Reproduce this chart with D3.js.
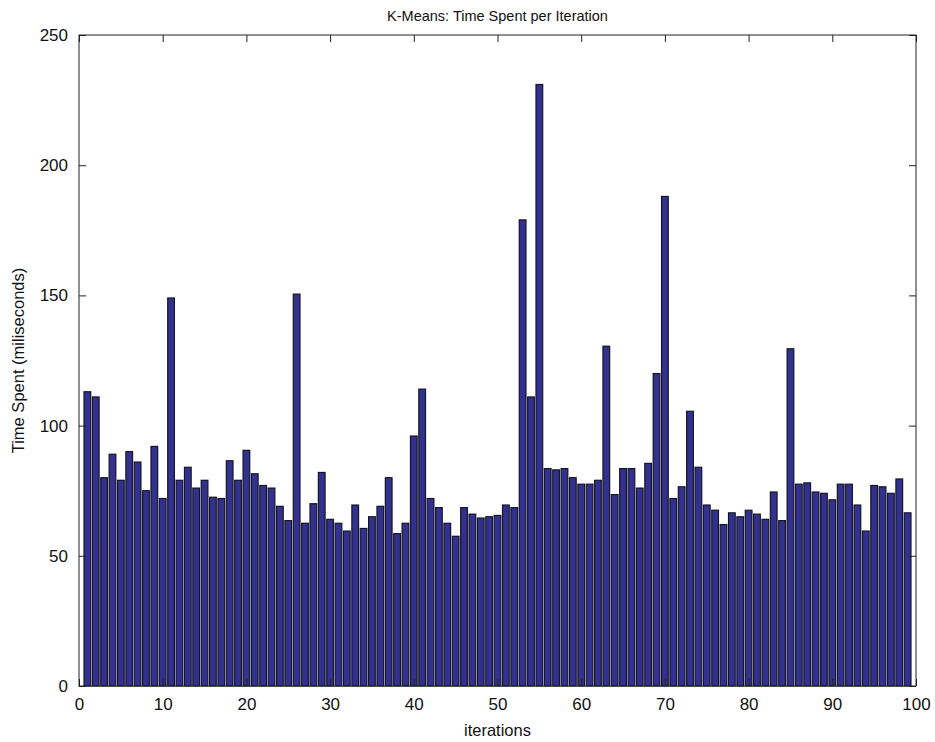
<!DOCTYPE html>
<html>
<head>
<meta charset="utf-8">
<script src="https://cdn.jsdelivr.net/npm/d3@7"></script>
<style>
  body { margin: 0; background: #fff; }
  text { font-family: "Liberation Sans", Arial, sans-serif; }
</style>
</head>
<body>
<div id="chart"></div>
<script>
// time spent (ms) for iterations 1..99
var iterations = d3.range(1, 100);
var timeSpent = [
    113, 111, 80, 89, 79, 90, 86, 75, 92, 72,
    149, 79, 84, 76, 79, 72.5, 72, 86.5, 79, 90.5,
    81.5, 77, 76, 69, 63.5, 150.5, 62.5, 70, 82, 64,
    62.5, 59.5, 69.5, 60.5, 65, 69, 80, 58.5, 62.5, 96,
    114, 72, 68.5, 62.5, 57.5, 68.5, 66, 64.5, 65, 65.5,
    69.5, 68.5, 179, 111, 231, 83.5, 83, 83.5, 80, 77.5,
    77.5, 79, 130.5, 73.5, 83.5, 83.5, 76, 85.5, 120, 188,
    72, 76.5, 105.5, 84, 69.5, 67.5, 62, 66.5, 65, 67.5,
    66, 64, 74.5, 63.5, 129.5, 77.5, 78, 74.5, 74, 71.5,
    77.5, 77.5, 69.5, 59.5, 77, 76.5, 74, 79.5, 66.5
];
var xTicks = [0, 10, 20, 30, 40, 50, 60, 70, 80, 90, 100];
var yTicks = [0, 50, 100, 150, 200, 250];

var width = 935;
var height = 742;
var margin = {top: 35, right: 19, bottom: 56, left: 79};
var plotW = width - margin.left - margin.right;
var plotH = height - margin.top - margin.bottom;

var svg = d3.select('#chart')
    .append('svg')
    .attr('width', width)
    .attr('height', height);

var g = svg.append('g')
    .attr('transform', 'translate(' + margin.left + ',' + margin.top + ')');

var x = d3.scaleLinear().domain([0, 100]).range([0, plotW]);
var y = d3.scaleLinear().domain([0, 250]).range([plotH, 0]);

var barW = (x(1) - x(0)) * 0.8;

// bars
g.selectAll('rect.bar')
    .data(timeSpent)
    .enter()
    .append('rect')
    .attr('class', 'bar')
    .attr('x', (d, i) => x(iterations[i]) - barW / 2)
    .attr('y', (d) => y(d))
    .attr('width', barW)
    .attr('height', (d) => y(0) - y(d))
    .attr('fill', '#33318f')
    .attr('stroke', '#151525')
    .attr('stroke-width', 1.2);

// box
g.append('rect')
    .attr('width', plotW)
    .attr('height', plotH)
    .attr('fill', 'none')
    .attr('stroke', '#222')
    .attr('stroke-width', 1);

// axes with inward ticks on all four sides
var tickLen = 7;
g.append('g')
    .attr('transform', 'translate(0,' + plotH + ')')
    .call(d3.axisBottom(x).tickValues(xTicks).tickSizeInner(-tickLen).tickSizeOuter(0).tickPadding(12))
    .call(ax => ax.select('.domain').remove());
g.append('g')
    .call(d3.axisTop(x).tickValues(xTicks).tickSizeInner(-tickLen).tickSizeOuter(0).tickFormat(''))
    .call(ax => ax.select('.domain').remove());
g.append('g')
    .call(d3.axisLeft(y).tickValues(yTicks).tickSizeInner(-tickLen).tickSizeOuter(0).tickPadding(11))
    .call(ax => ax.select('.domain').remove());
g.append('g')
    .attr('transform', 'translate(' + plotW + ',0)')
    .call(d3.axisRight(y).tickValues(yTicks).tickSizeInner(-tickLen).tickSizeOuter(0).tickFormat(''))
    .call(ax => ax.select('.domain').remove());

g.selectAll('.tick line').attr('stroke', '#222');
g.selectAll('.tick text')
    .attr('font-size', 17)
    .attr('fill', '#111')
    .style('font-family', '"Liberation Sans", Arial, sans-serif');

// title and labels
svg.append('text')
    .attr('x', margin.left + plotW / 2)
    .attr('y', 21)
    .attr('text-anchor', 'middle')
    .attr('font-size', 14.5)
    .attr('fill', '#111')
    .text('K-Means: Time Spent per Iteration');

svg.append('text')
    .attr('x', margin.left + plotW / 2)
    .attr('y', 736)
    .attr('text-anchor', 'middle')
    .attr('font-size', 16.5)
    .attr('fill', '#111')
    .text('iterations');

svg.append('text')
    .attr('transform', 'translate(24,' + (margin.top + plotH / 2) + ') rotate(-90)')
    .attr('text-anchor', 'middle')
    .attr('font-size', 16.5)
    .attr('fill', '#111')
    .text('Time Spent (miliseconds)');
</script>
</body>
</html>
